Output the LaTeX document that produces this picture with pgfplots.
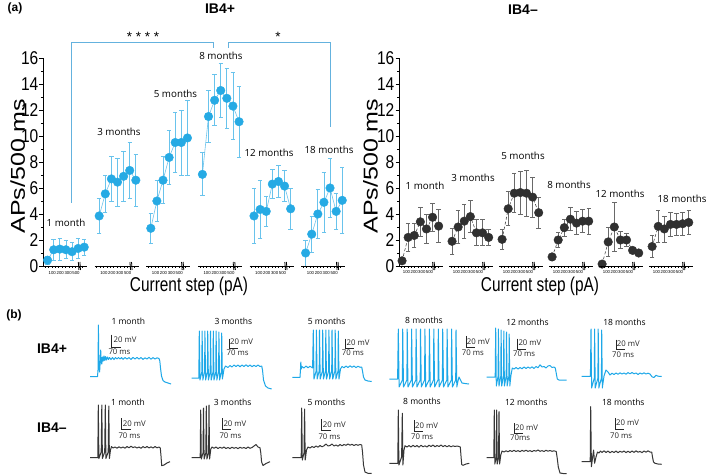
\documentclass[border=0pt]{standalone}
\usepackage{fontspec}
\setmainfont{Liberation Sans}
\newfontfamily\osans{Open Sans}
\usepackage{graphicx}
\usepackage{pgfplots}
\usepackage{pgfplotstable}
\pgfplotsset{compat=1.18}

\definecolor{ptblue}{RGB}{38,170,228}
\definecolor{errblue}{RGB}{105,195,236}
\definecolor{linblue}{RGB}{110,196,236}
\definecolor{brblue}{RGB}{100,178,222}
\definecolor{trblue}{RGB}{30,168,232}
\definecolor{ptgray}{RGB}{48,48,48}
\definecolor{errgray}{RGB}{105,105,105}
\definecolor{trgray}{RGB}{55,55,55}

% IB4+ : segment (0=1 mo,1=3,2=5,3=8,4=12,5=18 months), step index, mean, error
\pgfplotstableread{
seg i y err
0 0 0.45 0.3
0 1 1.25 0.8
0 2 1.3 0.85
0 3 1.25 0.7
0 4 1.1 0.7
0 5 1.35 0.8
0 6 1.45 0.6
1 0 3.85 1.35
1 1 5.55 1.45
1 2 6.7 1.7
1 3 6.45 1.85
1 4 6.9 1.95
1 5 7.35 2.15
1 6 6.6 2.0
2 0 2.9 1.15
2 1 5.0 1.6
2 2 6.6 1.8
2 3 8.35 2.1
2 4 9.5 2.3
2 5 9.5 2.5
2 6 9.85 2.85
3 0 7.05 1.65
3 1 11.5 2.0
3 2 12.75 1.95
3 3 13.5 2.1
3 4 12.9 2.3
3 5 12.3 2.6
3 6 11.1 2.75
4 0 3.85 2.1
4 1 4.35 2.2
4 2 4.2 1.15
4 3 6.3 1.1
4 4 6.5 1.2
4 5 6.15 1.2
4 6 4.4 1.6
5 0 1.0 1.0
5 1 2.45 1.4
5 2 4.0 1.9
5 3 4.9 2.3
5 4 6.0 2.3
5 5 4.2 1.35
5 6 5.05 2.55
}\posdata

% IB4- 
\pgfplotstableread{
seg i y err
0 0 0.4 0.2
0 1 2.2 1.05
0 2 2.35 0.95
0 3 3.4 1.1
0 4 2.85 1.1
0 5 3.75 1.1
0 6 3.07 1.25
1 0 1.9 1.0
1 1 3.0 1.3
1 2 3.45 1.3
1 3 3.8 1.25
1 4 2.55 1.0
1 5 2.55 1.0
1 6 2.2 0.65
2 0 2.05 0.8
2 1 4.4 1.3
2 2 5.6 1.5
2 3 5.65 1.65
2 4 5.6 1.75
2 5 5.3 1.55
2 6 4.1 1.2
3 0 0.7 0.3
3 1 2.0 0.6
3 2 2.95 0.65
3 3 3.6 0.9
3 4 3.3 0.9
3 5 3.45 0.9
3 6 3.45 1.0
4 0 0.15 0.1
4 1 1.85 1.15
4 2 3.0 1.9
4 3 2.0 0.65
4 4 2.0 0.5
4 5 1.2 0.2
4 6 1.0 0.15
5 0 1.5 0.85
5 1 3.05 1.25
5 2 2.85 1.0
5 3 3.2 0.9
5 4 3.2 0.85
5 5 3.25 0.9
5 6 3.35 0.95
}\negdata

\newcommand\sbar[8]{%
  \draw[line width=0.7pt,black!85] (#1,#2) -- (#1,#3) -- ++(9,0);
  \node[anchor=west,inner sep=0pt,font=\osans\fontsize{7.8}{8}\selectfont,black!85] at (#4,#5) {20 mV};
  \node[anchor=west,inner sep=0pt,font=\osans\fontsize{7.8}{8}\selectfont,black!85] at (#6,#7) {#8};
}

\pgfplotsset{
  panelax/.style={
    anchor=south west, scale only axis, height=208pt,
    ymin=0, ymax=16,
    axis x line=none, axis y line*=left,
    y axis line style={-, line width=0.9pt},
    ytick={0,2,...,16}, minor y tick num=1,
    tick align=outside, major tick length=3.5pt, minor tick length=2pt,
    tick style={black, line width=0.9pt},
    /pgf/number format/assume math mode=true,
    yticklabel={\scalebox{0.84}[1]{\pgfmathprintnumber{\tick}}},
    yticklabel style={font=\fontsize{18.5}{18.5}\selectfont, inner sep=1pt},
    ylabel={\scalebox{1}[0.8]{APs/500 ms}},
    ylabel style={anchor=center, font=\fontsize{25}{25}\selectfont},
    clip=false,
  }
}

\begin{document}
\begin{tikzpicture}[x=1pt,y=1pt]
\useasboundingbox (0,0) rectangle (709,474);
\fill[white] (0,0) rectangle (709,474);

% ---------- panel (a) left: IB4+ ----------
\begin{axis}[panelax, at={(43pt,208pt)}, width=302pt, xmin=0, xmax=49.45,
  ylabel style={at={(axis description cs:-0.084,0.48)}}]
\pgfplotsinvokeforeach{0,...,5}{
  \addplot[no marks, linblue, line width=0.6pt]
    table[x expr=8.45*\thisrow{seg}+0.75+\thisrow{i}, y=y,
          restrict expr to domain={\thisrow{seg}}{#1:#1}] {\posdata};
}
\addplot[only marks, mark=*, mark size=4.3pt, ptblue,
  error bars/.cd, y dir=both, y explicit,
  error bar style={errblue, line width=0.8pt},
  error mark options={rotate=90, mark size=2.2pt, errblue, line width=0.8pt}]
  table[x expr=8.45*\thisrow{seg}+0.75+\thisrow{i}, y=y, y error=err] {\posdata};
\end{axis}

% ---------- panel (a) right: IB4- ----------
\begin{axis}[panelax, at={(399pt,208pt)}, width=294pt, xmin=0, xmax=48.2,
  ylabel style={at={(axis description cs:-0.097,0.48)}}]
\pgfplotsinvokeforeach{0,...,5}{
  \addplot[no marks, ptgray, densely dashed, line width=0.5pt]
    table[x expr=8.2*\thisrow{seg}+0.5+\thisrow{i}, y=y,
          restrict expr to domain={\thisrow{seg}}{#1:#1}] {\negdata};
}
\addplot[only marks, mark=*, mark size=4.3pt, ptgray,
  error bars/.cd, y dir=both, y explicit,
  error bar style={errgray, line width=0.8pt},
  error mark options={rotate=90, mark size=2.2pt, errgray, line width=0.8pt}]
  table[x expr=8.2*\thisrow{seg}+0.5+\thisrow{i}, y=y, y error=err] {\negdata};
\end{axis}

% ---------- panel (b): traces, pixel coordinates ----------
\begin{axis}[at={(0pt,0pt)}, anchor=south west, scale only axis, width=709pt, height=474pt,
  xmin=0, xmax=709, ymin=0, ymax=474, y dir=reverse, hide axis, clip=false]
% IB4+ 1 month
\addplot[trblue, line width=1pt, line join=round] coordinates {
(90,376.5)(97.5,376.5)(98,370)(98.4,325)(98.9,368)(99.6,372)(100.2,362)(100.7,350)(101.2,362)(101.8,364)(102.5,357)(103.2,361)(104,356)(104.8,360.5)(105.6,356.5)(106.5,360)(107.5,357)(108.5,359.5)(109.5,357.5)(111,359.5)(112.5,357.5)(114,359.5)(115.5,357.5)(117,359)(118.5,357.5)(120,359)(121.5,357.6)(123,359.3)(125,357.5)(127,359)(129,357.6)(131,359.4)(133,357.4)(135,359)(137,357.4)(139,359.1)(141,357.5)(143,359.4)(145,357.8)(147,359)(149,357.3)(151,359.2)(153,357.6)(155,359)(157,357.8)(159,358.5)(159.8,361)(160.5,368)(161.5,376)(163,380.5)(165,382)(168,383)(171,384)};
% IB4+ 3 months
\addplot[trblue, line width=1pt, line join=round] coordinates {
(191.7,378)(198.8,378)(199.3,331)(200,380)(201.8,372)(202.1,331)(202.8,380)(204.6,372)(204.9,331)(205.6,380)(207.4,372)(207.7,331)(208.4,380)(210.2,372)(210.5,331)(211.2,380)(213,372)(213.3,331)(214,380)(215.8,372)(216.1,331)(216.8,380)(218.6,372)(218.9,332)(219.6,380)(221.4,372)(221.7,333)(222.4,379)(224,369)(225.5,366)(228,367.5)(230,365.5)(232,367)(234,365)(236,366.5)(238,365)(240,366.8)(242,365)(244,366.5)(246,364.8)(248,366.5)(250,365)(252,366.7)(254,365.3)(256,366.5)(258,365)(260,366.5)(261.7,366)(262.5,370)(263.5,380)(265.5,386)(268,388)(271.7,389)};
% IB4+ 5 months
\addplot[trblue, line width=1pt, line join=round] coordinates {
(292.3,377.3)(300,377.3)(300.4,371)(300.8,362)(301.3,369)(302,366.5)(304,368)(306,366)(308,367.8)(310,366.2)(312.6,368)
(313.3,330)(314,379)(316.1,371)(316.4,330)(317.1,379)(319.2,371)(319.5,330)(320.2,379)(322.4,371)(322.7,330)(323.4,379)(325.5,371)(325.8,330)(326.5,379)(328.6,371)(328.9,330)(329.6,379)(331.7,371)(332,330)(332.7,379)(334.9,371)(335.2,330)(335.9,379)(338,371)
(338.3,331)(339,379)(340.5,369)(342,366.5)(344,367.8)(346,366)(348,367.5)(350,365.8)(352,367.3)(354,366)(356,367.6)(358,366.2)(360,367.3)(361.7,367)(362.5,371)(363.5,377)(365,380)(368,381)(371.7,381.5)};
% IB4+ 8 months
\addplot[trblue, line width=1pt, line join=round] coordinates {
(389.3,379)(397.6,379)
(398.3,329)(399.1,387)(402.4,380)(402.7,329)(403.5,387)(406.9,380)(407.2,329)(408,387)(411.3,380)(411.6,329)(412.4,387)(415.8,380)(416.1,329)(416.9,387)(420.2,380)(420.5,329)(421.3,387)(424.6,380)(424.9,329)(425.7,387)(429.1,380)(429.4,329)(430.2,387)(433.5,380)(433.8,329)(434.6,387)(438,380)(438.3,329)(439.1,387)(442.4,380)(442.7,329)(443.5,387)(446.8,380)(447.1,329)(447.9,387)(451.3,380)(451.6,329)(452.4,387)(455.7,380)
(456,330)(456.8,387)(458,381)(459,377)(460.5,380)(462,383)(465,383.5)(469,384)};
% IB4+ 12 months
\addplot[trblue, line width=1pt, line join=round] coordinates {
(486.7,377)(495.2,377)
(495.7,328)(496.3,386)(498.1,376)(498.4,329)(499,386)(500.8,376)(501.1,330)(501.7,386)(503.5,376)(503.8,331)(504.4,386)(506.2,376)(506.5,332)(507.1,386)(508.9,376)
(509.2,334)(509.8,386)(511,375)(512.3,368)(514,369)(516,367.5)(518,369)(520,367.5)(522,368.8)(524,367)(526,368.5)(528,367)(530,368.3)(532,366.8)(534,368.5)(536,366.5)(538,367.8)(540,364.8)(542,367)(544,366.5)(546,368)(548,366)(550,365.5)(552,367.5)(554,367)(555.3,368)(556.2,373)(557.3,379)(559,380)(566.7,380)};
% IB4+ 18 months
\addplot[trblue, line width=1pt, line join=round] coordinates {
(581.7,376.3)(590.4,376.3)
(591,329)(591.6,388)(594.3,378)(594.6,329)(595.2,388)(597.9,378)(598.2,329)(598.8,388)(601.4,378)
(601.7,330)(602.3,388)(604,376)(606,370)(608,372)(610,375)(612,373.2)(614,374.5)(616,373)(618,374.3)(620,372.8)(622,374)(624,373)(626,374.2)(628,372.6)(630,373.8)(632,372.5)(634,373.8)(636,373)(638,374.5)(640,373)(642,374)(644,372.8)(646,374)(648,373.2)(650,374)(652,376.8)(654,377.5)(656,375.2)(658,376.2)(661.7,376.5)};
% IB4- 1 month
\addplot[trgray, line width=1pt, line join=round] coordinates {
(90,457.7)(97.8,457.7)
(98.3,405)(98.9,458.5)(101.2,452)(101.8,405)(102.4,458.5)(104.7,452)(105.3,405)(105.9,458.5)(108.2,452)
(108.8,406)(109.4,458.5)(110.5,450)(111.5,446.5)(113,448)(115,447)(117,448.2)(119,446.8)(121,448)(123,447)(125,448.2)(127,446.5)(129,447.8)(131,446.2)(133,447.6)(135,446.8)(137,448)(139,447)(141,448.3)(143,446.6)(145,447.8)(147,446.5)(149,447.9)(151,446.8)(153,448)(155,446.5)(157,447.8)(159,447)(160.3,448)(161,456)(161.7,465.7)(164,465)(167,463)(170,461.7)};
% IB4- 3 months
\addplot[trgray, line width=1pt, line join=round] coordinates {
(191.7,457.7)(200.2,457.7)
(200.7,410)(201.3,459)(203,453)(203.5,408)(204.1,459)(205.8,453)(206.3,406)(206.9,459)(208.6,453)
(209,405)(209.6,459)(210.8,449)(212,447)(214,448.3)(216,447)(218,448.5)(220,447.2)(222,448.3)(224,447)(226,448.5)(228,447.5)(230,448.6)(232,447.2)(234,448.3)(236,447.5)(238,448.6)(240,447.3)(242,448.2)(244,447.5)(246,448.5)(248,447)(250,448.3)(252,447.5)(254,446)(256,444.5)(258,447)(260,447.8)(260.8,453)(261.6,462)(263,465.5)(266,463.5)(270,461.7)};
% IB4- 5 months
\addplot[trgray, line width=1pt, line join=round] coordinates {
(292.3,457.7)(301.2,457.7)(301.7,408)(302.3,460)(304,453)(304.6,409)(305.2,460)(306.5,450)(308,447)(310,448)(312,446.5)(314,447.5)(316,446)(318,447.2)(320,445.5)(322,446.8)(324,445.8)(326,444)(328,446)(330,445.5)(332,444)(334,446)(336,445)(338,446.2)(340,444.5)(342,445.8)(344,444.5)(346,445.3)(348,444)(350,445.2)(352,444.3)(354,445.5)(356,444.5)(358,445.3)(360,444.5)(361.7,445)(362.5,452)(363.5,465)(365,472)(368,473.3)(371.7,473.5)};
% IB4- 8 months
\addplot[trgray, line width=1pt, line join=round] coordinates {
(389.3,463.3)(397.8,463.3)(398.3,410)(398.9,465)(401.6,457)(402.3,413.3)(402.9,465)(404,450)(405,445.7)(407,447)(409,445.5)(411,447)(413,445.3)(415,446.8)(417,445.5)(419,447.2)(421,445.3)(423,446.8)(425,445.8)(427,447)(429,445.2)(431,446.5)(433,445)(435,446.8)(437,445.5)(439,446.5)(441,445)(443,446.6)(445,445.5)(447,446.8)(449,445.6)(451,446.8)(453,445.8)(455,446.5)(457,446)(459,446.5)(460.3,447)(461,456)(461.7,464.5)(463,465.3)(466,464)(469.3,463.3)};
% IB4- 12 months
\addplot[trgray, line width=1pt, line join=round] coordinates {
(486.7,457.7)(493.8,457.7)(494.3,410)(494.8,464)(496.2,458)(496.7,410)(497.2,464)(498.5,458)(499,411.7)(499.6,464)(500.8,455)(502,451)(504,452)(506,450.8)(508,451.8)(510,450.5)(512,451.5)(514,450.3)(516,451.5)(518,450.6)(520,451.7)(522,450.4)(524,451.3)(526,450.2)(528,451.4)(530,450.6)(532,451.6)(534,450.5)(536,451.2)(538,450)(540,451.3)(542,450.6)(544,451.5)(546,450.2)(548,451.2)(550,450.5)(552,451.3)(554,450.8)(556.2,451.5)(557.2,458)(558.3,467)(560,473)(563,473.5)(566.7,473.6)};
% IB4- 18 months
\addplot[trgray, line width=1pt, line join=round] coordinates {
(581.7,461.7)(590.2,461.7)(590.7,406.7)(591.4,466.7)(592.8,456)(593.6,450)(594.6,463.3)(596,457)(597.5,452)(599,453)(600.5,451)(602,452.5)(604,450.8)(606,452.5)(608,451)(610,452.8)(612,451.3)(614,452.5)(616,451)(618,452.7)(620,451.2)(622,452.3)(624,451)(626,452.6)(628,451.2)(630,452.5)(632,451)(634,452.4)(636,450.8)(638,452.2)(640,451.4)(642,452.6)(644,451)(646,452.2)(648,450.8)(650,452)(651.7,452)(652.5,457)(653.5,462)(655,463.3)(658,464)(661.7,464.3)};
\end{axis}

% ---------- annotations in pixel coordinates (y downward) ----------
\begin{scope}[shift={(0,474)}, yscale=-1]
% panel letters and titles
\node[font=\bfseries\fontsize{12}{12}\selectfont] at (15,8) {(a)};
\node[font=\bfseries\fontsize{14}{14}\selectfont] at (220,9) {IB4+};
\node[font=\bfseries\fontsize{14}{14}\selectfont] at (523,10) {IB4–};
\node[font=\bfseries\fontsize{12}{12}\selectfont] at (14,315) {(b)};
\node[font=\bfseries\fontsize{14}{14}\selectfont] at (52,349) {IB4+};
\node[font=\bfseries\fontsize{14}{14}\selectfont] at (52,428) {IB4–};

% significance brackets
\draw[brblue, line width=1pt] (71,203) -- (71,43) -- (213,43) -- (213,48);
\draw[brblue, line width=1pt] (228,48) -- (228,43) -- (330,43) -- (330,127);
\node[anchor=base, font=\fontsize{13.5}{14}\selectfont] at (143,41.5) {* * * *};
\node[anchor=base, font=\fontsize{13.5}{14}\selectfont] at (278,41.5) {*};

% broken x axes, left panel
\foreach \s in {43,94.63,146.26,197.89,249.52,301.15} {
  \draw[line width=0.8pt] (\s,266) -- ++(44,0);
  \foreach \t in {2,5.4,...,42} \draw[line width=0.45pt] (\s+\t,266) -- ++(0,2.2);
  \draw[line width=0.8pt] (\s+35.3,262) -- (\s+35.9,270) (\s+36.9,262) -- (\s+37.5,270);
  \node[font=\fontsize{4.3}{5}\selectfont, inner sep=0pt] at (\s+9.3,273.5) {100};
  \node[font=\fontsize{4.3}{5}\selectfont, inner sep=0pt] at (\s+17.2,273.5) {200};
  \node[font=\fontsize{4.3}{5}\selectfont, inner sep=0pt] at (\s+25.1,273.5) {300};
  \node[font=\fontsize{4.3}{5}\selectfont, inner sep=0pt] at (\s+33,273.5) {500};
}
% broken x axes, right panel
\foreach \s in {399,449,499,549,599,649} {
  \draw[line width=0.8pt] (\s,266) -- ++(44,0);
  \foreach \t in {2,5.4,...,42} \draw[line width=0.45pt] (\s+\t,266) -- ++(0,2.2);
  \draw[line width=0.8pt] (\s+33.6,262) -- (\s+34.2,270) (\s+35.2,262) -- (\s+35.8,270);
  \node[font=\fontsize{4.3}{5}\selectfont, inner sep=0pt] at (\s+7.5,272.5) {100};
  \node[font=\fontsize{4.3}{5}\selectfont, inner sep=0pt] at (\s+15.2,272.5) {200};
  \node[font=\fontsize{4.3}{5}\selectfont, inner sep=0pt] at (\s+22.8,272.5) {300};
  \node[font=\fontsize{4.3}{5}\selectfont, inner sep=0pt] at (\s+30.5,272.5) {500};
}
\node[font=\fontsize{20}{20}\selectfont, inner sep=0pt] at (189,286) {\scalebox{0.77}[1]{Current step (pA)}};
\node[font=\fontsize{20}{20}\selectfont, inner sep=0pt] at (540,286) {\scalebox{0.77}[1]{Current step (pA)}};

% month labels, panel (a)
\begin{scope}[every node/.style={font=\osans\fontsize{9.8}{10}\selectfont, inner sep=0pt}]
\node at (66,223) {1 month};
\node at (119,132) {3 months};
\node at (175.5,94) {5 months};
\node at (221,56) {8 months};
\node at (269,153) {12 months};
\node at (329,150) {18 months};
\node at (425,186) {1 month};
\node at (473,178) {3 months};
\node at (523,156) {5 months};
\node at (569,185) {8 months};
\node at (620,194) {12 months};
\node at (682,199) {18 months};
\end{scope}

% month labels, panel (b)
\begin{scope}[every node/.style={font=\osans\fontsize{8.5}{9}\selectfont, inner sep=0pt}]
\node at (128.3,321.5) {1 month};
\node at (233.3,321) {3 months};
\node at (326.7,321) {5 months};
\node at (424,320) {8 months};
\node at (527.5,322.3) {12 months};
\node at (624.5,322.3) {18 months};
\node at (128,402.3) {1 month};
\node at (232.7,402) {3 months};
\node at (326.3,402) {5 months};
\node at (422,401.7) {8 months};
\node at (526.3,402.7) {12 months};
\node at (623.3,402.7) {18 months};
\end{scope}

% scale bars
\sbar{111.7}{334.7}{347.3}{113.5}{340}{108.3}{351.5}{70 ms}
\sbar{229}{338.7}{348.7}{230}{342}{226.5}{353}{70 ms}
\sbar{345}{338.7}{348.7}{346.5}{342.5}{341.7}{352.5}{70 ms}
\sbar{466}{336}{347.3}{466.7}{341.5}{461.7}{352.3}{70 ms}
\sbar{517.3}{338.7}{349.7}{518.3}{343}{513}{354}{70 ms}
\sbar{616}{339.7}{349.7}{616.7}{344}{612}{354.7}{70 ms}
\sbar{121.7}{418.3}{429}{122.7}{424}{118.3}{436}{70 ms}
\sbar{222.3}{418.3}{429}{223.3}{424}{219.3}{436}{70 ms}
\sbar{321.7}{419}{430}{322.7}{425}{318.3}{437}{70 ms}
\sbar{414.3}{420}{431}{415}{425.7}{411}{436.7}{70 ms}
\sbar{514.3}{423.3}{433.3}{515}{428}{510}{437.7}{70ms}
\sbar{615}{418.3}{429.3}{616}{423}{610}{435.7}{70 ms}
\end{scope}
\end{tikzpicture}
\end{document}
